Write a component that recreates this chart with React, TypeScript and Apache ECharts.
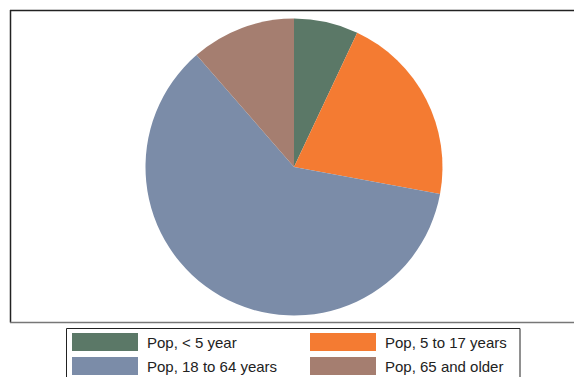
import React, { useEffect, useRef } from "react";
import * as echarts from "echarts";

const categories = ["Pop, < 5 year", "Pop, 5 to 17 years", "Pop, 18 to 64 years", "Pop, 65 and older"];
const shares = [7.0, 20.9, 60.7, 11.4];
const colors = ["#5b7867", "#f47b32", "#7b8ca8", "#a57e70"];
const legendLeftColumn = ["Pop, < 5 year", "Pop, 18 to 64 years"];
const legendRightColumn = ["Pop, 5 to 17 years", "Pop, 65 and older"];

export default function App() {
  const ref = useRef<HTMLDivElement>(null);
  useEffect(() => {
    if (!ref.current) return;
    const chart = echarts.init(ref.current, undefined, { renderer: "svg" });
    const legendBase = {
      orient: "vertical" as const,
      top: 333,
      padding: 0,
      itemWidth: 66,
      itemHeight: 18,
      itemGap: 6,
      icon: "rect",
      selectedMode: false,
      textStyle: {
        fontFamily: "Liberation Sans, Arial, sans-serif",
        fontSize: 15,
        color: "#222",
        padding: [0, 0, 0, 4],
      },
    };
    chart.setOption({
      animation: false,
      backgroundColor: "#fff",
      color: colors,
      legend: [
        { ...legendBase, left: 72, data: legendLeftColumn },
        { ...legendBase, left: 310, data: legendRightColumn },
      ],
      graphic: [
        { type: "line", shape: { x1: 10, y1: 10.5, x2: 574, y2: 10.5 }, style: { stroke: "#222", lineWidth: 1.5 }, z: 10 },
        { type: "line", shape: { x1: 10.5, y1: 10, x2: 10.5, y2: 322.5 }, style: { stroke: "#222", lineWidth: 1.5 }, z: 10 },
        { type: "line", shape: { x1: 10, y1: 322.5, x2: 574, y2: 322.5 }, style: { stroke: "#777", lineWidth: 1.5 }, z: 10 },
        { type: "rect", shape: { x: 66.5, y: 328.5, width: 453.5, height: 60 }, style: { fill: "none", stroke: "#222", lineWidth: 1 }, z: 10 },
      ],
      series: [
        {
          type: "pie",
          center: [294, 167],
          radius: 148.5,
          startAngle: 90,
          clockwise: true,
          label: { show: false },
          labelLine: { show: false },
          emphasis: { disabled: true },
          itemStyle: { borderWidth: 0 },
          data: categories.map((name, i) => ({ name, value: shares[i] })),
        },
      ],
    });
    return () => chart.dispose();
  }, []);
  return <div ref={ref} style={{ position: "fixed", left: 0, top: 0, width: 574, height: 377 }} />;
}
